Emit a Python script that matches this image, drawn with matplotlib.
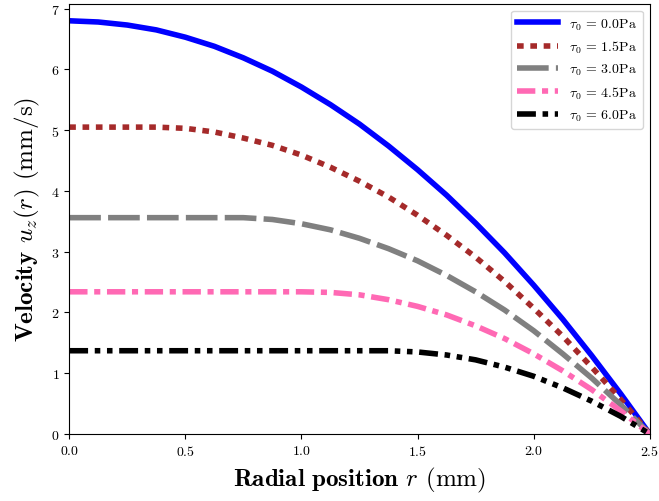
import numpy as np
import matplotlib
matplotlib.use("Agg")
import matplotlib.pyplot as plt

plt.rcParams['mathtext.fontset'] = 'cm'
plt.rcParams['font.family'] = 'serif'
plt.rcParams['font.serif'] = ['cmr10']
plt.rcParams['axes.formatter.use_mathtext'] = True

# radial positions (mm)
r = [0.0, 0.125, 0.25, 0.375, 0.5, 0.625, 0.75, 0.875, 1.0, 1.125, 1.25,
     1.375, 1.5, 1.625, 1.75, 1.875, 2.0, 2.125, 2.25, 2.375, 2.5]

# velocity profiles (mm/s)
u_00 = [6.80, 6.78, 6.73, 6.65, 6.53, 6.38, 6.19, 5.97, 5.71, 5.42, 5.10,
        4.74, 4.35, 3.93, 3.47, 2.98, 2.45, 1.89, 1.29, 0.66, 0.0]
u_15 = [5.05, 5.05, 5.05, 5.05, 5.03, 4.97, 4.87, 4.75, 4.59, 4.39, 4.16,
        3.90, 3.60, 3.27, 2.91, 2.51, 2.07, 1.61, 1.10, 0.57, 0.0]
u_30 = [3.56, 3.56, 3.56, 3.56, 3.56, 3.56, 3.56, 3.53, 3.46, 3.36, 3.22,
        3.05, 2.85, 2.61, 2.34, 2.04, 1.70, 1.32, 0.92, 0.48, 0.0]
u_45 = [2.34, 2.34, 2.34, 2.34, 2.34, 2.34, 2.34, 2.34, 2.34, 2.33, 2.29,
        2.21, 2.10, 1.96, 1.78, 1.57, 1.32, 1.04, 0.73, 0.38, 0.0]
u_60 = [1.37, 1.37, 1.37, 1.37, 1.37, 1.37, 1.37, 1.37, 1.37, 1.37, 1.37,
        1.37, 1.35, 1.30, 1.22, 1.10, 0.95, 0.76, 0.54, 0.29, 0.0]

tau0 = ['0.0', '1.5', '3.0', '4.5', '6.0']
profiles = [u_00, u_15, u_30, u_45, u_60]
colors = ['blue', 'brown', 'gray', 'hotpink', 'black']
styles = ['-',
          (0, (1.2, 1.2)),
          (0, (5.7, 1.3)),
          (0, (3.3, 1.2, 1.1, 1.2)),
          (0, (3.4, 1.2, 1.0, 1.2, 1.0, 1.2))]

fig = plt.figure(figsize=(6.59, 5.02), dpi=100)
ax = fig.add_axes([0.105, 0.1335, 0.881, 0.857])

for t, u, c, ls in zip(tau0, profiles, colors, styles):
    ax.plot(r, u, color=c, linestyle=ls, linewidth=4,
            label=r'$\mathrm{\tau_0}$ = %sPa' % t)

ax.set_xlim(0, 2.5)
ax.set_ylim(0, 7.08)
ax.set_xlabel(r'$\mathbf{Radial\ position}$ $r$ (mm)', fontsize=18, labelpad=5)
ax.set_ylabel(r'$\mathbf{Velocity}$ $u_z(r)$ (mm/s)', fontsize=18, labelpad=6)
ax.tick_params(labelsize=10)
ax.legend(loc='upper right', fontsize=10, handlelength=3)

fig.savefig("out.png", dpi=100)
